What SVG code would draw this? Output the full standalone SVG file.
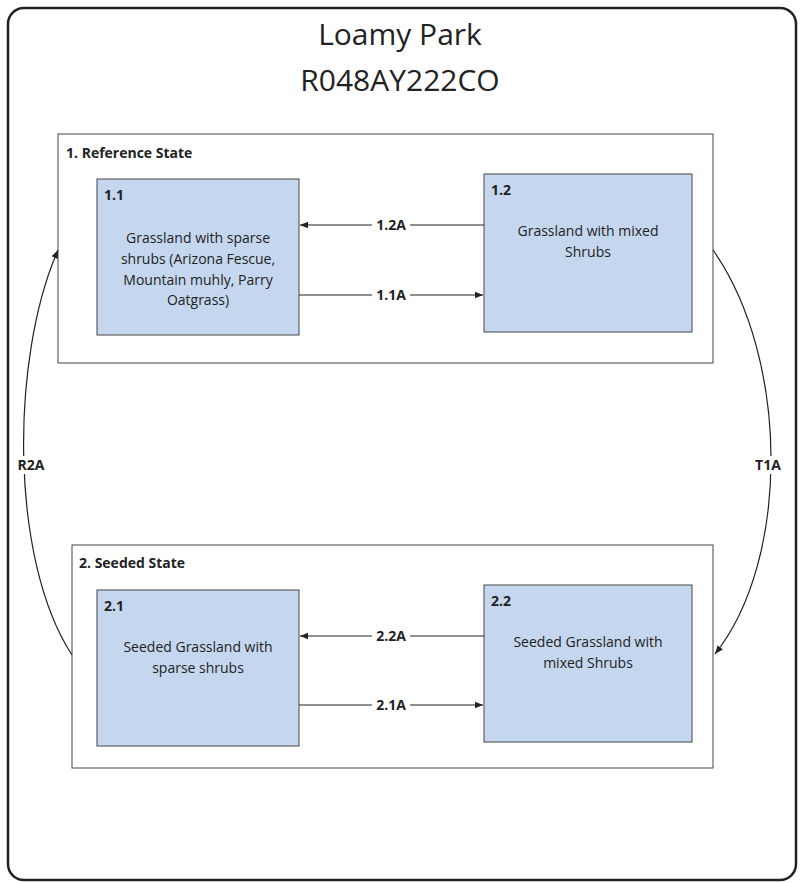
<svg xmlns="http://www.w3.org/2000/svg" width="800" height="883" viewBox="0 0 800 883">
<style>
text{font-family:"Open Sans","Liberation Sans",sans-serif;fill:#222}
.st{fill:#fff;stroke:#444;stroke-width:1}
.nd{fill:#c5d7ee;stroke:#444;stroke-width:1}
.b{font-weight:bold;font-size:14px}
.t{font-size:14px;text-anchor:middle}
.c{fill:none;stroke:#222;stroke-width:1.2}
.lb{font-weight:bold;font-size:14px;text-anchor:middle}
</style>
<defs><marker id="a" viewBox="0 0 10 10" refX="10" refY="5" markerWidth="7" markerHeight="7" orient="auto"><path d="M0,1 L10,5 L0,9z" fill="#222"/></marker></defs>
<rect width="800" height="883" fill="#fff"/>
<rect x="8" y="8" width="788" height="872" rx="16" fill="#fff" stroke="#222" stroke-width="2.5"/>
<text x="400" y="45" font-size="30" text-anchor="middle">Loamy Park</text>
<text x="400" y="91" font-size="30" text-anchor="middle">R048AY222CO</text>
<g id="state1"><rect class="st" x="58" y="134" width="655" height="229"/><text class="b" x="66" y="158">1. Reference State</text></g>
<g id="state2"><rect class="st" x="72" y="545" width="641" height="223"/><text class="b" x="79" y="568">2. Seeded State</text></g>
<g id="n11"><rect class="nd" x="97" y="179" width="202" height="156"/><text class="b" x="104" y="200">1.1</text>
<text class="t" x="198" y="243">Grassland with sparse</text><text class="t" x="198" y="264">shrubs (Arizona Fescue,</text><text class="t" x="198" y="285">Mountain muhly, Parry</text><text class="t" x="198" y="305">Oatgrass)</text></g>
<g id="n12"><rect class="nd" x="484" y="174" width="208" height="158"/><text class="b" x="491" y="195">1.2</text>
<text class="t" x="588" y="236">Grassland with mixed</text><text class="t" x="588" y="257">Shrubs</text></g>
<g id="n21"><rect class="nd" x="97" y="590" width="202" height="156"/><text class="b" x="104" y="611">2.1</text>
<text class="t" x="198" y="652">Seeded Grassland with</text><text class="t" x="198" y="673">sparse shrubs</text></g>
<g id="n22"><rect class="nd" x="484" y="585" width="208" height="157"/><text class="b" x="491" y="606">2.2</text>
<text class="t" x="588" y="647">Seeded Grassland with</text><text class="t" x="588" y="668">mixed Shrubs</text></g>
<g id="connectors">
<path class="c" d="M484,225H300" marker-end="url(#a)"/>
<path class="c" d="M299,295H483" marker-end="url(#a)"/>
<path class="c" d="M484,636H300" marker-end="url(#a)"/>
<path class="c" d="M299,705H483" marker-end="url(#a)"/>
<path class="c" d="M713,250C790,360 790,560 715,654" marker-end="url(#a)"/>
<path class="c" d="M72,655C10,560 10,360 58,250" marker-end="url(#a)"/>
<rect x="372" y="216" width="38" height="18" fill="#fff"/><text class="lb" x="391" y="230">1.2A</text>
<rect x="372" y="286" width="38" height="18" fill="#fff"/><text class="lb" x="391" y="300">1.1A</text>
<rect x="372" y="627" width="38" height="18" fill="#fff"/><text class="lb" x="391" y="641">2.2A</text>
<rect x="372" y="696" width="38" height="18" fill="#fff"/><text class="lb" x="391" y="710">2.1A</text>
<rect x="751" y="456" width="34" height="18" fill="#fff"/><text class="lb" x="768" y="470">T1A</text>
<rect x="14" y="456" width="36" height="18" fill="#fff"/><text class="lb" x="31" y="470">R2A</text>
</g>
</svg>
